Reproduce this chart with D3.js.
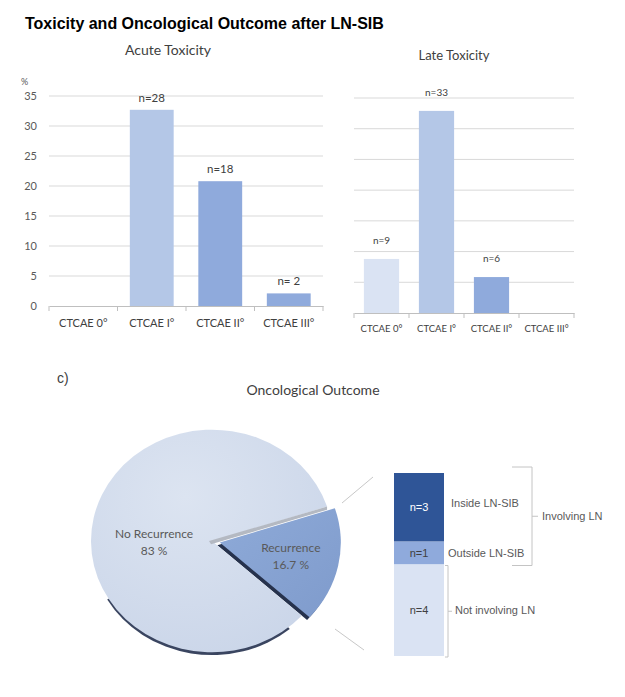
<!DOCTYPE html>
<html><head><meta charset="utf-8">
<script src="https://cdn.jsdelivr.net/npm/d3@7"></script>
<style>body{margin:0;background:#fff}svg{display:block}</style>
</head><body>
<script>
// ---- data ----
const categories = ["CTCAE 0°", "CTCAE I°", "CTCAE II°", "CTCAE III°"];
const acuteValues = [null, 32.7, 20.8, 2.1];      // %
const acuteLabels = [null, "n=28", "n=18", "n= 2"];
const lateValues = [17.6, 65.8, 11.7, null];      // %
const lateLabels = ["n=9", "n=33", "n=6", null];
const acuteTicks = [0, 5, 10, 15, 20, 25, 30, 35];
const lateGrid = [0, 10, 20, 30, 40, 50, 60, 70];
const pieNames = ["Recurrence", "No Recurrence"];
const pieValues = [16.7, 83.3];
const pieLabels = ["16.7 %", "83 %"];
const recNames = ["Inside LN-SIB", "Outside LN-SIB", "Not involving LN"];
const recCounts = [3, 1, 4];
const recLabels = ["n=3", "n=1", "n=4"];

const catColors = ["#dae3f3", "#b4c7e7", "#8faadc", "#8faadc"];
const FONT = "Lato, 'Open Sans', sans-serif";
const ARIAL = "'Liberation Sans', Arial, sans-serif";

const svg = d3.select("body").append("svg").attr("width", 625).attr("height", 697);

svg.append("text").attr("x", 25).attr("y", 29).attr("font-family", ARIAL)
  .attr("font-weight", "bold").attr("font-size", 16).attr("fill", "#000")
  .text("Toxicity and Oncological Outcome after LN-SIB");

// ---- bar chart helper ----
function barChart(opts) {
  const g = svg.append("g");
  const x = d3.scaleBand().domain(categories).range([opts.x0, opts.x1])
    .paddingInner(0.36).paddingOuter(0.18);
  const y = d3.scaleLinear().domain(opts.domain).range([opts.yBase, opts.yTop]);
  g.selectAll(".grid").data(opts.grid.filter(d => d > 0)).join("line")
    .attr("x1", opts.x0).attr("x2", opts.x1)
    .attr("y1", d => y(d)).attr("y2", d => y(d))
    .attr("stroke", "#d9d9d9").attr("stroke-width", 1);
  const data = categories.map((c, i) => ({c, v: opts.values[i], l: opts.labels[i], i}))
    .filter(d => d.v != null);
  g.selectAll("rect").data(data).join("rect")
    .attr("x", d => x(d.c)).attr("width", x.bandwidth())
    .attr("y", d => y(d.v)).attr("height", d => y(0) - y(d.v))
    .attr("fill", d => catColors[d.i]);
  g.selectAll(".lbl").data(data).join("text")
    .attr("x", d => x(d.c) + x.bandwidth() / 2).attr("y", d => y(d.v) - opts.labelOff)
    .attr("text-anchor", "middle").attr("font-family", FONT).attr("font-size", opts.lblSize)
    .attr("fill", "#404040").text(d => d.l);
  const xa = g.append("g").attr("transform", `translate(0,${y(0)})`)
    .call(d3.axisBottom(x).tickSize(0).tickPadding(opts.tickPad));
  xa.select(".domain").attr("stroke", "#bfbfbf");
  xa.selectAll("text").attr("font-family", FONT).attr("font-size", opts.catSize).attr("fill", "#404040");
  const edges = d3.range(categories.length + 1).map(i => opts.x0 + i * x.step());
  g.selectAll(".tk").data(edges).join("line")
    .attr("x1", d => d).attr("x2", d => d).attr("y1", y(0)).attr("y2", y(0) + 5)
    .attr("stroke", "#bfbfbf");
  g.append("text").attr("x", opts.titleX).attr("y", opts.titleY).attr("text-anchor", "middle")
    .attr("font-family", FONT).attr("font-size", opts.titleSize).attr("fill", "#404040").text(opts.title);
  return {g, x, y};
}

const acute = barChart({x0: 49, x1: 323, yBase: 306, yTop: 96, domain: [0, 35], grid: acuteTicks,
  values: acuteValues, labels: acuteLabels, labelOff: 8, lblSize: 11.5, catSize: 11, tickPad: 13,
  title: "Acute Toxicity", titleX: 168, titleY: 55, titleSize: 14});
acute.g.append("g").selectAll("text").data(acuteTicks).join("text")
  .attr("x", 37).attr("y", d => acute.y(d) + 4).attr("text-anchor", "end")
  .attr("font-family", FONT).attr("font-size", 11).attr("fill", "#595959").text(d => d);
acute.g.append("text").attr("x", 21).attr("y", 85).attr("font-family", FONT)
  .attr("font-size", 9).attr("fill", "#595959").text("%");

barChart({x0: 354, x1: 574, yBase: 313, yTop: 98, domain: [0, 70], grid: lateGrid,
  values: lateValues, labels: lateLabels, labelOff: 15, lblSize: 10, catSize: 9.5, tickPad: 12,
  title: "Late Toxicity", titleX: 454, titleY: 60, titleSize: 13});

// ---- pie ----
svg.append("text").attr("x", 57).attr("y", 383).attr("font-family", ARIAL)
  .attr("font-size", 14).attr("fill", "#404040").text("c)");
svg.append("text").attr("x", 313).attr("y", 395).attr("text-anchor", "middle")
  .attr("font-family", FONT).attr("font-size", 14).attr("fill", "#404040").text("Oncological Outcome");

const defs = svg.append("defs");
const rg = defs.append("radialGradient").attr("id", "gMain").attr("cx", "40%").attr("cy", "30%").attr("r", "75%");
rg.append("stop").attr("offset", "0%").attr("stop-color", "#dce4f1");
rg.append("stop").attr("offset", "100%").attr("stop-color", "#cbd6e9");
const lg = defs.append("linearGradient").attr("id", "gRec").attr("x1", "0").attr("y1", "0").attr("x2", "1").attr("y2", "1");
lg.append("stop").attr("offset", "0%").attr("stop-color", "#8eaad8");
lg.append("stop").attr("offset", "100%").attr("stop-color", "#7f9bcc");

const R = 121, cx = 212, cy = 541, sy = 0.92, explode = 8;
const deg = Math.PI / 180;
const pie = d3.pie().sort(null).startAngle(72 * deg).endAngle((72 + 360) * deg);
const arcs = pie(pieValues);
const arc = d3.arc().innerRadius(0).outerRadius(R);
const pg = svg.append("g").attr("transform", `translate(${cx},${cy}) scale(1,${sy})`);
function off(a) {
  const m = (a.startAngle + a.endAngle) / 2;
  return a.index === 0 ? [Math.sin(m) * explode, -Math.cos(m) * explode] : [0, 0];
}
// bottom shadow of main pie (depth edge)
pg.append("path").attr("d", arc({startAngle: 140 * deg, endAngle: 240 * deg}))
  .attr("transform", "translate(0,3)").attr("fill", "#3a4560");
// shadow of exploded slice
const recO = off(arcs[0]);
pg.append("path").attr("d", arc(arcs[0]))
  .attr("transform", `translate(${recO[0] - 2.5},${recO[1] + 3})`).attr("fill", "#26324d");
// slices
pg.selectAll(".sl").data(arcs).join("path")
  .attr("d", arc)
  .attr("transform", d => { const o = off(d); return `translate(${o[0]},${o[1]})`; })
  .attr("fill", d => d.index === 0 ? "url(#gRec)" : "url(#gMain)");
// gray depth edge on the main pie's upper cut
const a0 = arcs[1].endAngle;
const ex = Math.sin(a0) * R, ey = -Math.cos(a0) * R;
pg.append("path")
  .attr("d", `M-3,0 L${ex},${ey} L${ex},${ey + 3.5} L-1,3.5 Z`)
  .attr("fill", "#b4b9c2");

const labelR = [0.6, 0.49];
const labelDy = [0, 12];
arcs.forEach(d => {
  const m = (d.startAngle + d.endAngle) / 2, o = off(d), r = R * labelR[d.index];
  const px = cx + o[0] + Math.sin(m) * r, py = cy + (o[1] - Math.cos(m) * r) * sy + labelDy[d.index];
  const t = svg.append("text").attr("text-anchor", "middle").attr("font-family", FONT)
    .attr("font-size", 12).attr("fill", "#595959");
  t.append("tspan").attr("x", px).attr("y", py - 4).text(pieNames[d.index]);
  t.append("tspan").attr("x", px).attr("y", py + 13).text(pieLabels[d.index]);
});

// ---- stacked recurrence bar ----
const ys = d3.scaleLinear().domain([0, d3.sum(recCounts)]).range([473, 656]);
const cum = d3.cumsum(recCounts);
const segs = recCounts.map((v, i) => ({v, i, y0: cum[i] - v, y1: cum[i]}));
const segColors = ["#2f5597", "#8faadc", "#dae3f3"];
const bx = 394, bw = 50;
svg.selectAll(".seg").data(segs).join("rect")
  .attr("x", bx).attr("width", bw).attr("y", d => ys(d.y0)).attr("height", d => ys(d.y1) - ys(d.y0))
  .attr("fill", d => segColors[d.i]);
svg.selectAll(".segl").data(segs).join("text")
  .attr("x", bx + bw / 2).attr("y", d => (ys(d.y0) + ys(d.y1)) / 2 + 4).attr("text-anchor", "middle")
  .attr("font-family", ARIAL).attr("font-size", 11).attr("fill", d => d.i === 0 ? "#fff" : "#404040")
  .text(d => recLabels[d.i]);
const sideX = [451, 448, 455];
const sideDy = [-4, 0, 0];
svg.selectAll(".side").data(segs).join("text")
  .attr("x", d => sideX[d.i]).attr("y", d => (ys(d.y0) + ys(d.y1)) / 2 + 4 + sideDy[d.i])
  .attr("font-family", ARIAL).attr("font-size", 11).attr("fill", "#595959").text(d => recNames[d.i]);

// brackets
const bc = "#c4c4c4";
const inv0 = ys(0) - 6, inv1 = ys(cum[1]) + 1;
svg.append("path").attr("d", `M512,${inv0} H532 V${inv1} H512 M532,${(inv0 + inv1) / 2} H538`)
  .attr("fill", "none").attr("stroke", bc);
svg.append("text").attr("x", 542).attr("y", (inv0 + inv1) / 2 + 4).attr("font-family", ARIAL)
  .attr("font-size", 11).attr("fill", "#595959").text("Involving LN");
const ni0 = ys(cum[1]) + 1, ni1 = ys(cum[2]) + 1;
svg.append("path").attr("d", `M445,${ni0} H448 V${ni1} H445 M448,${(ni0 + ni1) / 2} H452`)
  .attr("fill", "none").attr("stroke", bc);

// connector lines
svg.append("line").attr("x1", 342).attr("y1", 503).attr("x2", 373).attr("y2", 477).attr("stroke", "#c8c8c8");
svg.append("line").attr("x1", 335).attr("y1", 629).attr("x2", 364).attr("y2", 650).attr("stroke", "#c8c8c8");
</script>
</body></html>
